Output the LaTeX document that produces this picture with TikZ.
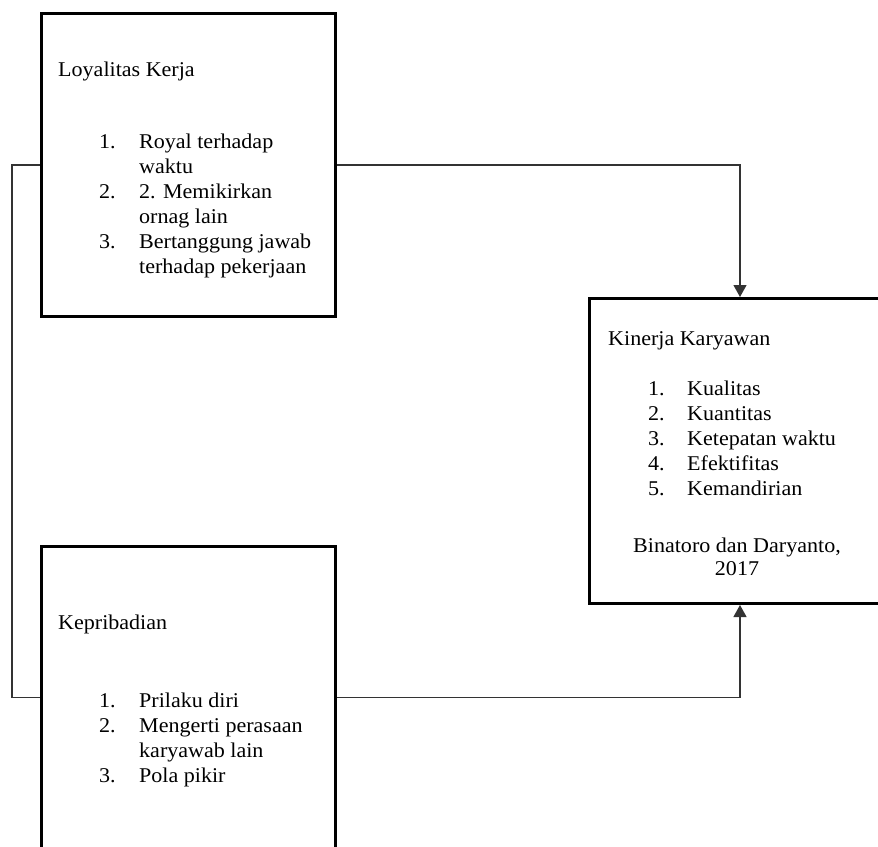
\documentclass[tikz,border=0pt]{standalone}
\usepackage{fontspec}
\setmainfont{Liberation Serif}[FakeStretch=1.05]
\usetikzlibrary{arrows.meta}

\begin{document}
\begin{tikzpicture}[x=1pt,y=-1pt,
  box/.style={draw=black,line width=3pt,rectangle,inner sep=0pt},
  conn/.style={draw=black!80,line width=1.2pt},
  num/.style={anchor=base west,inner sep=0pt},
  item/.style={anchor=base west,inner sep=0pt},
  title/.style={anchor=base west,inner sep=0pt},
  every node/.style={font=\fontsize{21}{25}\selectfont}]
  \useasboundingbox (0,0) rectangle (878,846);
  \clip (0,0) rectangle (878,846);
  % boxes
  \node[box,minimum width=294pt,minimum height=303pt] (loyal) at (188.5,165) {};
  \node[box,minimum width=294pt,minimum height=303pt] (pribadi) at (188.5,697.5) {};
  \node[box,minimum width=301pt,minimum height=305pt] (kinerja) at (740,451) {};
  % Loyalitas Kerja
  \node[title] (loyaltitle) at (58,76) {Loyalitas Kerja};
  \node[num] (ln1) at (99,148) {1.};
  \node[item] (lt1) at (139,148) {Royal terhadap};
  \node[item] (lt1b) at (139,173) {waktu};
  \node[num] (ln2) at (99,198) {2.};
  \node[item] (lt2) at (139,198) {2. Memikirkan};
  \node[item] (lt2b) at (139,223) {ornag lain};
  \node[num] (ln3) at (99,248) {3.};
  \node[item] (lt3) at (139,248) {Bertanggung jawab};
  \node[item] (lt3b) at (139,273) {terhadap pekerjaan};
  % Kepribadian
  \node[title] (pribadititle) at (58,629) {Kepribadian};
  \node[num] (pn1) at (99,707) {1.};
  \node[item] (pt1) at (139,707) {Prilaku diri};
  \node[num] (pn2) at (99,732) {2.};
  \node[item] (pt2) at (139,732) {Mengerti perasaan};
  \node[item] (pt2b) at (139,757) {karyawab lain};
  \node[num] (pn3) at (99,782) {3.};
  \node[item] (pt3) at (139,782) {Pola pikir};
  % Kinerja Karyawan
  \node[title] (kinerjatitle) at (608,345) {Kinerja Karyawan};
  \foreach \t [count=\i] in {Kualitas,Kuantitas,Ketepatan waktu,Efektifitas,Kemandirian} {
    \node[num] (kn\i) at (648,370+25*\i) {\i.};
    \node[item] (kt\i) at (687,370+25*\i) {\t};
  }
  \node[anchor=base,inner sep=0pt] (sumber) at (737,552) {Binatoro dan Daryanto,};
  \node[anchor=base,inner sep=0pt] (tahun) at (737,575) {2017};
  % connectors
  \coordinate (rail) at (12,0);
  \draw[conn,-{Triangle[width=13pt,length=12pt]}] (loyal.east) -| (kinerja.north);
  \draw[conn,-{Triangle[width=13pt,length=12pt]}] (pribadi.east) -| (kinerja.south);
  \draw[conn] (loyal.west) -- (loyal.west -| rail) |- (pribadi.west);
\end{tikzpicture}
\end{document}
